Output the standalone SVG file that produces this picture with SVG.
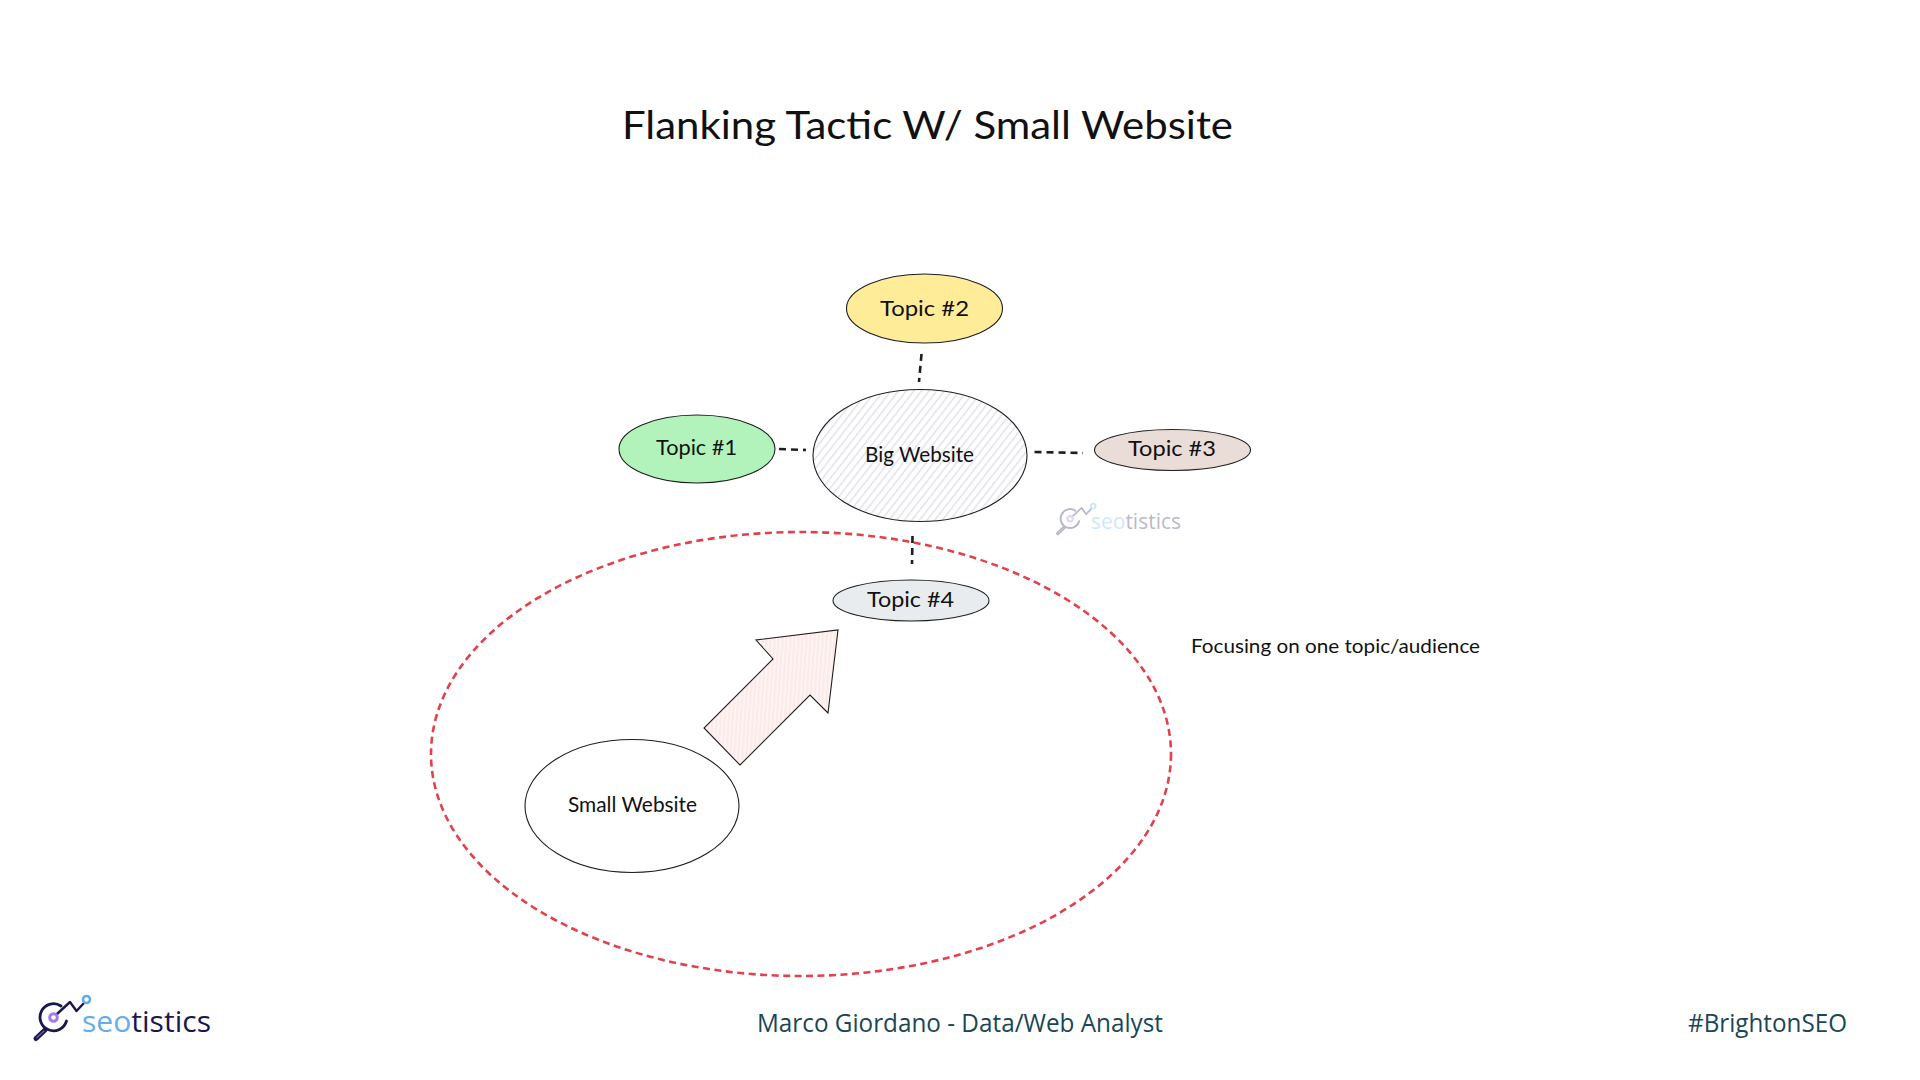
<svg xmlns="http://www.w3.org/2000/svg" xmlns:xlink="http://www.w3.org/1999/xlink" width="1920" height="1080" viewBox="0 0 1920 1080">
<style>
.outline{stroke:#1e1e1e;stroke-width:1.1}
.hand{font-family:"Lato","Open Sans",sans-serif;fill:#111;font-size:22px;text-anchor:start}
.dash{fill:none;stroke:#1e1e1e;stroke-width:2.6;stroke-dasharray:7 5}
.foot{font-family:"Open Sans","Liberation Sans",sans-serif;font-size:25px;fill:#1b4655}
.logo{font-family:"Open Sans","Noto Sans",sans-serif}
</style>
<defs>
<pattern id="hatchBig" width="6" height="6" patternUnits="userSpaceOnUse" patternTransform="rotate(38)">
<rect width="6" height="6" fill="#fff"/><rect width="1.500" height="6" fill="#e2e0ee"/>
</pattern>
<pattern id="hatchArrow" width="4" height="4" patternUnits="userSpaceOnUse" patternTransform="rotate(4)">
<rect width="4" height="4" fill="#fdf6f5"/><rect width="2.400" height="4" fill="#fbeae8"/>
</pattern>
<symbol id="logoIcon" viewBox="0 0 60 50" overflow="visible">
<g fill="none" stroke-linecap="round" stroke-linejoin="round">
<path d="M13 35 L4 43.500" stroke="#1a1650" stroke-width="5"/>
<path d="M12 36 L5 42.500" stroke="#6a6790" stroke-width="1.200"/>
<path d="M29 11 A13.500 13.500 0 1 0 34.500 26" stroke="#1a1650" stroke-width="2.800"/>
<path d="M25 19 L38 7 L44.500 16 L52 8" stroke="#1a1650" stroke-width="2.400"/>
<circle cx="21.500" cy="22.500" r="3.800" stroke="#a678e8" stroke-width="3"/>
<circle cx="54.500" cy="4.500" r="3.500" stroke="#63aeea" stroke-width="2.600"/>
</g>
</symbol>
</defs>
<rect width="1920" height="1080" fill="#fff"/>

<g id="title"><text class="hand" x="622" y="139" style="font-size:38px" textLength="611" lengthAdjust="spacingAndGlyphs">Flanking Tactic W/ Small Website</text></g>

<g id="focus-area"><ellipse cx="801" cy="754" rx="370" ry="222" fill="none" stroke="#e2414c" stroke-width="2.600" stroke-dasharray="7 4.500"/></g>

<g id="connectors">
<path class="dash" d="M921.500 354 L919 382"/>
<path class="dash" d="M779 449 L806 450"/>
<path class="dash" d="M1034.500 452 L1083 453"/>
<path class="dash" d="M912.500 536 L912 564"/>
</g>

<g id="big-website"><ellipse class="outline" cx="920" cy="455.500" rx="107" ry="66" fill="url(#hatchBig)"/><text class="hand" x="865" y="462" textLength="109" lengthAdjust="spacingAndGlyphs">Big Website</text></g>
<g id="topic-1"><ellipse class="outline" cx="697" cy="449" rx="78" ry="34" fill="#b2f2bb"/><text class="hand" x="656" y="455" textLength="81" lengthAdjust="spacingAndGlyphs">Topic #1</text></g>
<g id="topic-2"><ellipse class="outline" cx="924.500" cy="308.500" rx="78" ry="34.500" fill="#ffec99"/><text class="hand" x="880" y="316" textLength="89" lengthAdjust="spacingAndGlyphs">Topic #2</text></g>
<g id="topic-3"><ellipse class="outline" cx="1172.500" cy="450" rx="78" ry="20.500" fill="#eaddd7"/><text class="hand" x="1128" y="456" textLength="88" lengthAdjust="spacingAndGlyphs">Topic #3</text></g>
<g id="topic-4"><ellipse class="outline" cx="911" cy="600.500" rx="78" ry="20.500" fill="#e9ecef"/><text class="hand" x="867" y="607" textLength="87" lengthAdjust="spacingAndGlyphs">Topic #4</text></g>
<g id="small-website"><ellipse class="outline" cx="632" cy="806" rx="107" ry="66.500" fill="#fff"/><text class="hand" x="568" y="812" textLength="129" lengthAdjust="spacingAndGlyphs">Small Website</text></g>
<g id="arrow"><polygon class="outline" points="838,630 828,713 810,695 740,765 704,728 773,659 756,640" fill="url(#hatchArrow)"/></g>
<g id="focus-label"><text class="hand" x="1191" y="653" style="font-size:20px" textLength="289" lengthAdjust="spacingAndGlyphs">Focusing on one topic/audience</text></g>

<g id="watermark" opacity="0.3">
<use xlink:href="#logoIcon" href="#logoIcon" x="1055" y="503" width="42" height="35"/>
<text class="logo" x="1091" y="529" font-size="21.500" textLength="90" lengthAdjust="spacingAndGlyphs"><tspan fill="#63aeea">seo</tspan><tspan fill="#1a1650">tistics</tspan></text>
</g>

<g id="logo">
<use xlink:href="#logoIcon" href="#logoIcon" x="32" y="995" width="60" height="50"/>
<text class="logo" x="82" y="1032" font-size="30" textLength="129" lengthAdjust="spacingAndGlyphs"><tspan fill="#63aeea">seo</tspan><tspan fill="#1a1650">tistics</tspan></text>
</g>
<g id="footer">
<text class="foot" x="757" y="1032" textLength="406" lengthAdjust="spacingAndGlyphs">Marco Giordano - Data/Web Analyst</text>
<text class="foot" x="1688" y="1032" textLength="159" lengthAdjust="spacingAndGlyphs">#BrightonSEO</text>
</g>
</svg>
